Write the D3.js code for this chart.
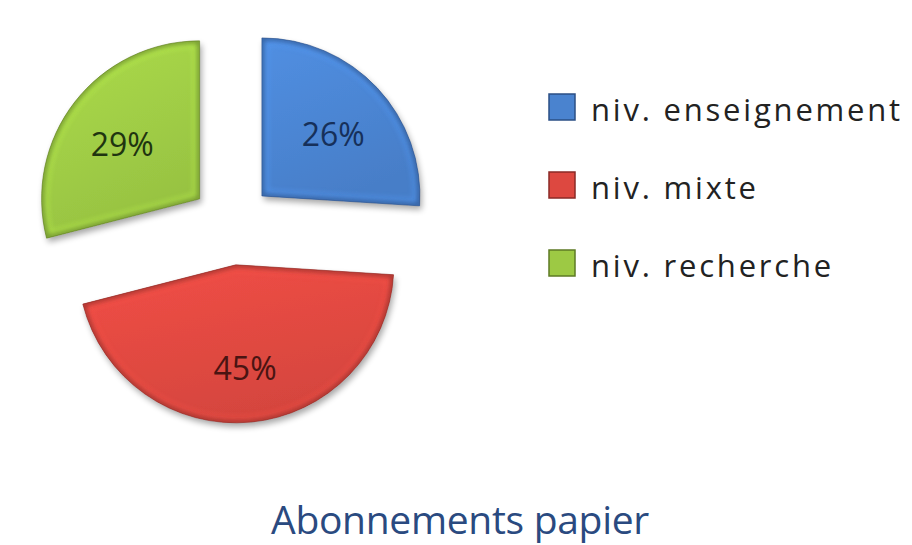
<!DOCTYPE html>
<html>
<head>
<meta charset="utf-8">
<script src="https://cdn.jsdelivr.net/npm/d3@7"></script>
<style>
  html, body { margin: 0; padding: 0; background: #ffffff; }
  svg { display: block; }
</style>
</head>
<body>
<svg id="chart" width="912" height="545"></svg>
<script>
// Répartition des abonnements papier par niveau
const categories = ["niv. enseignement", "niv. mixte", "niv. recherche"];
const values = [26, 45, 29];
const colors = ["#4a83cf", "#dd4840", "#9dc944"];
const edgeColors = ["#2b4f85", "#8a2a26", "#5d7a25"];
const labelColors = ["#16305a", "#4a1412", "#1f3510"];
const title = "Abonnements papier";

const svg = d3.select("#chart");
const defs = svg.append("defs");

const cx = 232, cy = 224, radius = 158, explode = 41;

// soft drop shadow under each slice
const shadow = defs.append("filter").attr("id", "shadow")
  .attr("x", "-20%").attr("y", "-20%").attr("width", "140%").attr("height", "140%");
shadow.append("feGaussianBlur").attr("in", "SourceAlpha").attr("stdDeviation", 3).attr("result", "b");
shadow.append("feOffset").attr("in", "b").attr("dx", 2).attr("dy", 4).attr("result", "o");
shadow.append("feComponentTransfer").attr("in", "o").attr("result", "s")
  .append("feFuncA").attr("type", "linear").attr("slope", 0.35);
const merge = shadow.append("feMerge");
merge.append("feMergeNode").attr("in", "s");
merge.append("feMergeNode").attr("in", "SourceGraphic");

const blurF = defs.append("filter").attr("id", "soft");
blurF.append("feGaussianBlur").attr("stdDeviation", 2.5);

colors.forEach((c, i) => {
  const g = defs.append("linearGradient").attr("id", "grad" + i)
    .attr("x1", "0").attr("y1", "0").attr("x2", "0.4").attr("y2", "1");
  g.append("stop").attr("offset", "0%").attr("stop-color", d3.color(c).brighter(0.25));
  g.append("stop").attr("offset", "100%").attr("stop-color", d3.color(c).darker(0.1));
});

const pie = d3.pie().sort(null).value(d => d)(values);
const arc = d3.arc().innerRadius(0).outerRadius(radius);
const labelArc = d3.arc().innerRadius(radius * 0.62).outerRadius(radius * 0.62);

const root = svg.append("g").attr("transform", `translate(${cx},${cy})`);

const slices = root.selectAll("g.slice").data(pie).join("g")
  .attr("class", "slice")
  .attr("transform", d => {
    const a = (d.startAngle + d.endAngle) / 2;
    return `translate(${Math.sin(a) * explode},${-Math.cos(a) * explode})`;
  });

slices.each(function (d, i) {
  const g = d3.select(this);
  defs.append("clipPath").attr("id", "clip" + i).append("path").attr("d", arc(d));
  g.append("path").attr("d", arc(d)).attr("fill", `url(#grad${i})`)
    .attr("filter", "url(#shadow)");
  // inner bevel: dark rim and a lighter inner highlight
  const bevel = g.append("g").attr("clip-path", `url(#clip${i})`);
  bevel.append("path").attr("d", arc(d)).attr("fill", "none")
    .attr("stroke", d3.color(colors[i]).brighter(0.6)).attr("stroke-width", 14)
    .attr("opacity", 0.45).attr("filter", "url(#soft)");
  bevel.append("path").attr("d", arc(d)).attr("fill", "none")
    .attr("stroke", edgeColors[i]).attr("stroke-width", 5)
    .attr("opacity", 0.75).attr("filter", "url(#soft)");
  g.append("path").attr("d", arc(d)).attr("fill", "none")
    .attr("stroke", edgeColors[i]).attr("stroke-width", 1).attr("opacity", 0.6);
  const [lx, ly] = labelArc.centroid(d);
  g.append("text").attr("x", lx).attr("y", ly).attr("dy", "0.55em")
    .attr("text-anchor", "middle")
    .attr("font-family", "'Open Sans', sans-serif").attr("font-size", 32)
    .attr("fill", labelColors[i])
    .text(values[i] + "%");
});

// legend
const legend = svg.append("g").attr("transform", "translate(549,107)");
const row = legend.selectAll("g").data(categories).join("g")
  .attr("transform", (d, i) => `translate(0,${i * 78})`);
row.append("rect").attr("x", 0).attr("y", -13).attr("width", 26).attr("height", 26)
  .attr("fill", (d, i) => colors[i]).attr("stroke", (d, i) => edgeColors[i]).attr("stroke-width", 1.5);
row.append("text").attr("x", 42).attr("y", 14)
  .attr("font-family", "'Open Sans', sans-serif").attr("font-size", 31)
  .attr("letter-spacing", 2.8)
  .attr("fill", "#222").text(d => d);

svg.append("text").attr("x", 460).attr("y", 534).attr("text-anchor", "middle")
  .attr("font-family", "'Open Sans', sans-serif").attr("font-size", 39)
  .attr("letter-spacing", -0.3)
  .attr("fill", "#2a4a80").text(title);
</script>
</body>
</html>
